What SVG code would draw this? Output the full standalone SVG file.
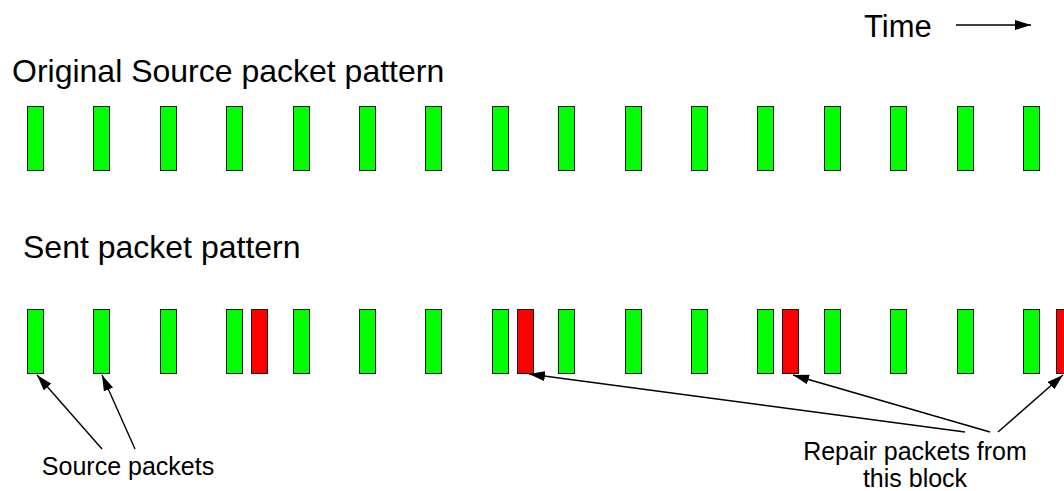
<svg xmlns="http://www.w3.org/2000/svg" width="1064" height="491" viewBox="0 0 1064 491">
<style>
.big{font-family:"Liberation Sans",Arial,sans-serif;font-size:32px;fill:#000}
.tm{font-family:"Liberation Sans",Arial,sans-serif;font-size:31px;fill:#000}
.lbl{font-family:"Liberation Sans",Arial,sans-serif;font-size:25px;fill:#000;text-anchor:middle}
.g{fill:#00ff00;stroke:#1a1a1a;stroke-width:1}
.r{fill:#ff0000;stroke:#1a1a1a;stroke-width:1}
.ln{stroke:#000;stroke-width:1.4;fill:none}
</style>
<defs>
<marker id="ahb" markerWidth="16" markerHeight="10" refX="16" refY="5" orient="auto" markerUnits="userSpaceOnUse" viewBox="0 0 16 10">
<path d="M0,0 L16,5 L0,10 Z" fill="#000"/>
</marker>
</defs>
<g id="time">
<text class="tm" x="864" y="37">Time</text>
<line x1="956" y1="25" x2="1031" y2="25" stroke="#000" stroke-width="1.4" marker-end="url(#ahb)"/>
</g>
<g id="title-original"><text class="big" x="12" y="82">Original Source packet pattern</text></g>
<g id="title-sent"><text class="big" x="23" y="258">Sent packet pattern</text></g>
<g id="original-row">
<rect class="g" x="27.5" y="106.5" width="16" height="64"/>
<rect class="g" x="93.5" y="106.5" width="16" height="64"/>
<rect class="g" x="160.5" y="106.5" width="16" height="64"/>
<rect class="g" x="226.5" y="106.5" width="16" height="64"/>
<rect class="g" x="293.5" y="106.5" width="16" height="64"/>
<rect class="g" x="359.5" y="106.5" width="16" height="64"/>
<rect class="g" x="425.5" y="106.5" width="16" height="64"/>
<rect class="g" x="492.5" y="106.5" width="16" height="64"/>
<rect class="g" x="558.5" y="106.5" width="16" height="64"/>
<rect class="g" x="625.5" y="106.5" width="16" height="64"/>
<rect class="g" x="691.5" y="106.5" width="16" height="64"/>
<rect class="g" x="757.5" y="106.5" width="16" height="64"/>
<rect class="g" x="824.5" y="106.5" width="16" height="64"/>
<rect class="g" x="890.5" y="106.5" width="16" height="64"/>
<rect class="g" x="957.5" y="106.5" width="16" height="64"/>
<rect class="g" x="1023.5" y="106.5" width="16" height="64"/>
</g>
<g id="sent-row">
<rect class="g" x="27.5" y="309.5" width="16" height="64"/>
<rect class="g" x="93.5" y="309.5" width="16" height="64"/>
<rect class="g" x="160.5" y="309.5" width="16" height="64"/>
<rect class="g" x="226.5" y="309.5" width="16" height="64"/>
<rect class="r" x="251.5" y="309.5" width="16" height="64"/>
<rect class="g" x="293.5" y="309.5" width="16" height="64"/>
<rect class="g" x="359.5" y="309.5" width="16" height="64"/>
<rect class="g" x="425.5" y="309.5" width="16" height="64"/>
<rect class="g" x="492.5" y="309.5" width="16" height="64"/>
<rect class="r" x="517.5" y="309.5" width="16" height="64"/>
<rect class="g" x="558.5" y="309.5" width="16" height="64"/>
<rect class="g" x="625.5" y="309.5" width="16" height="64"/>
<rect class="g" x="691.5" y="309.5" width="16" height="64"/>
<rect class="g" x="757.5" y="309.5" width="16" height="64"/>
<rect class="r" x="782.5" y="309.5" width="16" height="64"/>
<rect class="g" x="824.5" y="309.5" width="16" height="64"/>
<rect class="g" x="890.5" y="309.5" width="16" height="64"/>
<rect class="g" x="957.5" y="309.5" width="16" height="64"/>
<rect class="g" x="1023.5" y="309.5" width="16" height="64"/>
<rect class="r" x="1056.5" y="309.5" width="16" height="64"/>
</g>
<g id="connectors">
<line class="ln" x1="102" y1="449" x2="37" y2="375" marker-end="url(#ahb)"/>
<line class="ln" x1="135" y1="449" x2="102" y2="375" marker-end="url(#ahb)"/>
<line class="ln" x1="965" y1="432" x2="529" y2="374" marker-end="url(#ahb)"/>
<line class="ln" x1="990" y1="432" x2="793" y2="375" marker-end="url(#ahb)"/>
<line class="ln" x1="998" y1="432" x2="1063" y2="375" marker-end="url(#ahb)"/>
</g>
<g id="label-source"><text class="lbl" x="128" y="475">Source packets</text></g>
<g id="label-repair"><text class="lbl" x="915" y="460">Repair packets from<tspan x="915" y="487">this block</tspan></text></g>
</svg>
